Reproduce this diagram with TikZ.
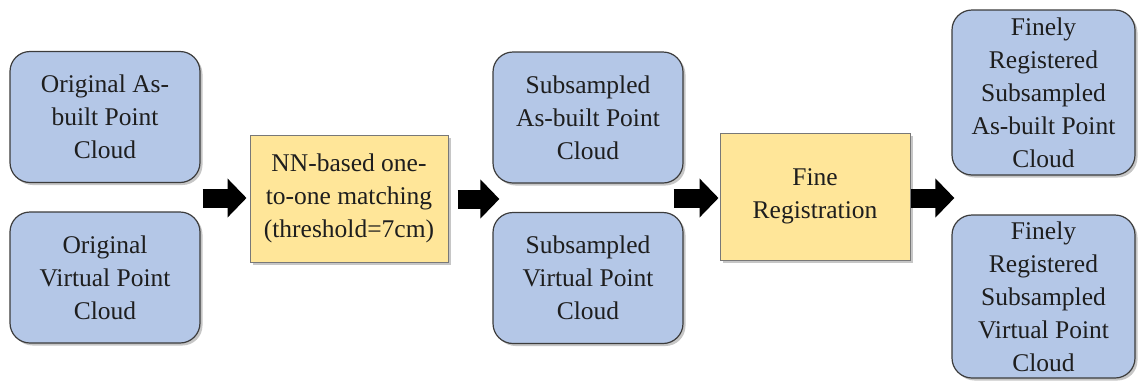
\documentclass[tikz,border=0pt]{standalone}
\usepackage{fontspec}
\setmainfont{Liberation Serif}
\newfontfamily\boxfont{Liberation Serif}
\usetikzlibrary{arrows.meta,shadows,calc}
\definecolor{boxblue}{RGB}{180,199,231}
\definecolor{boxyellow}{RGB}{255,230,153}
\definecolor{blueedge}{RGB}{60,60,60}
\definecolor{yellowedge}{RGB}{120,120,120}
\definecolor{textdark}{RGB}{30,30,30}
\begin{document}
\begin{tikzpicture}[x=1pt,y=-1pt,
  txt/.style={font=\boxfont\fontsize{25.5}{33}\selectfont, text=textdark, align=center, inner sep=0pt},
  cloudbox/.style={txt, rectangle, rounded corners=20pt, draw=blueedge, line width=1.2pt,
     fill=boxblue, drop shadow={shadow xshift=2.5pt, shadow yshift=-2.5pt, opacity=0.45}},
  procbox/.style={txt, rectangle, draw=yellowedge, line width=1pt,
     fill=boxyellow, drop shadow={shadow xshift=2.5pt, shadow yshift=-2.5pt, opacity=0.45}},
  bigarrow/.style={line width=19pt, -{Triangle[length=19pt,width=38pt]}, black}
]
\useasboundingbox (0,0) rectangle (1140,381);

\node[cloudbox, minimum width=190pt, minimum height=131pt] (b1) at (105,117) {Original As-\\built Point\\Cloud};
\node[cloudbox, minimum width=190pt, minimum height=131pt] (b2) at (105,277.5) {Original\\Virtual Point\\Cloud};
\node[procbox, minimum width=198pt, minimum height=127pt] (nn) at (349,198.5) {NN-based one-\\to-one matching\\(threshold=7cm)};
\node[cloudbox, minimum width=190pt, minimum height=131pt] (b3) at (588,117.5) {Subsampled\\As-built Point\\Cloud};
\node[cloudbox, minimum width=190pt, minimum height=131pt] (b4) at (588,278) {Subsampled\\Virtual Point\\Cloud};
\node[procbox, minimum width=190pt, minimum height=127pt] (fr) at (815,196.5) {Fine\\Registration};
\node[cloudbox, minimum width=183pt, minimum height=165pt] (b5) at (1043.5,92.5) {Finely\\Registered\\Subsampled\\As-built Point\\Cloud};
\node[cloudbox, minimum width=183pt, minimum height=163pt] (b6) at (1043.5,296.5) {Finely\\Registered\\Subsampled\\Virtual Point\\Cloud};

\coordinate (a1s) at ([xshift=2pt]b1.east |- 0,198);
\coordinate (a1e) at ([xshift=-3pt]nn.west |- 0,198);
\coordinate (a2s) at ([xshift=9pt]nn.east |- 0,199);
\coordinate (a2e) at ([xshift=7pt]b3.west |- 0,199);
\coordinate (a3s) at ([xshift=-10pt]b3.east |- 0,198);
\coordinate (a3e) at ([xshift=-1pt]fr.west |- 0,198);
\coordinate (a4s) at (fr.east |- 0,198);
\coordinate (a4e) at ([xshift=3pt]b5.west |- 0,198);

\draw[bigarrow] (a1s) -- (a1e);
\draw[bigarrow] (a2s) -- (a2e);
\draw[bigarrow] (a3s) -- (a3e);
\draw[bigarrow] (a4s) -- (a4e);
\end{tikzpicture}
\end{document}
